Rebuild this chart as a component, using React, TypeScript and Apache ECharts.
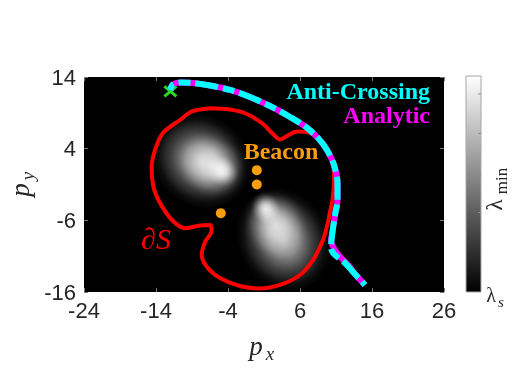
import React, { useEffect, useRef } from 'react';
import * as echarts from 'echarts';

// ---- data ----
const xRange = [-24, 26];
const yRange = [-16, 14];
const tickStep = 10;

// closed boundary ∂S (traced clockwise from the top)
const boundaryX = [-6.5, -3.72, -1.36, 0.86, 2.25, 3.22, 4.06, 5.58, 7.39, 9.19, 10.17, 10.65, 10.72, 10.51, 10.17, 9.89, 9.19, 7.81, 6.0, 3.22, 0.44, -2.33, -5.11, -6.92, -7.65, -7.19, -6.29, -6.43, -7.89, -9.97, -11.78, -13.44, -14.35, -14.6, -14.14, -13.03, -10.67, -9.0, -6.5];
const boundaryY = [9.63, 9.47, 8.84, 7.44, 6.05, 5.28, 5.7, 6.4, 6.19, 4.93, 3.26, 1.44, -0.79, -3.16, -4.84, -6.23, -8.74, -11.53, -13.63, -15.02, -15.51, -15.16, -14.05, -12.51, -10.84, -9.02, -7.49, -6.65, -6.72, -7.11, -5.95, -3.58, -1.35, 1.44, 3.81, 6.19, 8.0, 9.19, 9.63];

// Anti-Crossing trajectory
const antiX = [-12.06, -11.64, -10.67, -8.86, -6.5, -3.72, -0.94, 1.83, 4.61, 6.83, 8.5, 9.75, 10.72, 11.21, 11.21, 10.86, 10.51, 10.31, 10.72, 12.11, 13.5, 15.03];
const antiY = [12.19, 12.95, 13.23, 13.16, 12.81, 12.19, 11.21, 9.95, 8.42, 7.02, 5.49, 3.81, 1.72, -0.79, -3.16, -5.26, -7.63, -9.86, -10.7, -11.81, -13.35, -15.02];

// Analytic trajectory
const analyticX = [-12.06, -11.64, -10.67, -8.86, -6.5, -3.72, -0.94, 1.83, 4.61, 6.83, 8.5, 9.75, 10.72, 11.21, 11.21, 10.86, 10.51, 10.31, 11.14, 12.94, 13.5, 15.03];
const analyticY = [12.19, 12.95, 13.23, 13.16, 12.81, 12.19, 11.21, 9.95, 8.42, 7.02, 5.49, 3.81, 1.72, -0.79, -3.16, -5.26, -7.63, -8.74, -10.56, -12.51, -13.35, -15.02];

const beaconX = [0, 0, -5];
const beaconY = [1, -1, -5];
const startPoint = [-12, 12];

// λ_min field, as glowing layers: centre, radii, angle (deg), peak brightness
const fieldCx = [-7.7, -6.3, -4.8, 3.7, 2.6, 1.3];
const fieldCy = [2.3, 1.7, 0.9, -8.7, -6.6, -4.4];
const fieldRx = [7.3, 5.0, 2.4, 7.5, 5.0, 2.4];
const fieldRy = [6.4, 4.3, 2.1, 6.4, 4.3, 2.1];
const fieldAngle = [145, 145, 145, -62, -62, -62];
const fieldPeak = [0.7, 0.72, 0.85, 0.7, 0.72, 0.85];

const colorbarTickFractions = [0.083, 0.266, 0.449, 0.632];

const CYAN = '#00ffff';
const MAGENTA = '#ff00ff';
const RED = '#ff0000';
const ORANGE = '#fa9e10';
const GREEN = '#22dd22';
const AX = '#262626';

export default function App() {
  const ref = useRef<HTMLDivElement>(null);
  useEffect(() => {
    if (!ref.current) return;
    const chart = echarts.init(ref.current, undefined, { renderer: 'svg' });

    const zip = (xs: number[], ys: number[]) => xs.map((x, i) => [x, ys[i]]);
    const fieldData = fieldCx.map((c, i) => [c, fieldCy[i], fieldRx[i], fieldRy[i], fieldAngle[i], fieldPeak[i]]);

    const gl = 84, gt = 77, gw = 360, gh = 215;
    const cbX = 466, cbY = 76, cbW = 15, cbH = 216;

    const axisLabel = { color: AX, fontSize: 22, fontFamily: 'Liberation Sans' };
    const tick = { inside: true, length: 4, lineStyle: { color: '#777' } };

    const option: any = {
      animation: false,
      grid: { left: gl, top: gt, width: gw, height: gh, show: true, backgroundColor: '#000', borderWidth: 0 },
      xAxis: [
        {
          type: 'value', min: xRange[0], max: xRange[1], interval: tickStep,
          axisLine: { show: false, onZero: false }, splitLine: { show: false },
          axisTick: tick,
          axisLabel: { ...axisLabel, margin: 7 },
        },
        {
          type: 'value', position: 'top', min: xRange[0], max: xRange[1], interval: tickStep,
          axisLine: { show: false, onZero: false }, splitLine: { show: false },
          axisTick: tick,
          axisLabel: { show: false },
        },
      ],
      yAxis: [
        {
          type: 'value', min: yRange[0], max: yRange[1], interval: tickStep,
          axisLine: { show: false, onZero: false }, splitLine: { show: false },
          axisTick: tick,
          axisLabel: { ...axisLabel, margin: 8 },
        },
        {
          type: 'value', position: 'right', min: yRange[0], max: yRange[1], interval: tickStep,
          axisLine: { show: false, onZero: false }, splitLine: { show: false },
          axisTick: tick,
          axisLabel: { show: false },
        },
      ],
      series: [
        {
          type: 'custom', name: 'field', silent: true, clip: true,
          data: fieldData,
          encode: { x: 0, y: 1 },
          renderItem: (_p: any, api: any) => {
            const c = api.coord([api.value(0), api.value(1)]);
            const unit = api.size([1, 1]);
            const rx = api.value(2) * unit[0];
            const ry = api.value(3) * unit[1];
            const a = api.value(5);
            const w = (m: number) => `rgba(255,255,255,${(a * m).toFixed(3)})`;
            return {
              type: 'circle',
              x: c[0], y: c[1],
              rotation: (api.value(4) * Math.PI) / 180,
              scaleX: 1, scaleY: ry / rx,
              shape: { cx: 0, cy: 0, r: rx },
              style: {
                fill: new echarts.graphic.RadialGradient(0.5, 0.5, 0.5, [
                  { offset: 0, color: w(1) },
                  { offset: 0.3, color: w(0.78) },
                  { offset: 0.6, color: w(0.36) },
                  { offset: 0.85, color: w(0.08) },
                  { offset: 1, color: w(0) },
                ]),
              },
            };
          },
        },
        {
          type: 'line', name: '∂S', data: zip(boundaryX, boundaryY), smooth: 0.3,
          showSymbol: false, lineStyle: { color: RED, width: 4 }, silent: true,
        },
        {
          type: 'line', name: 'Analytic', data: zip(analyticX, analyticY), smooth: 0.3,
          showSymbol: false, lineStyle: { color: MAGENTA, width: 6 }, silent: true,
        },
        {
          type: 'line', name: 'Anti-Crossing', data: zip(antiX, antiY), smooth: 0.3,
          showSymbol: false, lineStyle: { color: CYAN, width: 6, type: [23, 5, 12, 5], dashOffset: 16 }, silent: true,
        },
        {
          type: 'scatter', name: 'Beacon', data: zip(beaconX, beaconY), symbol: 'circle', symbolSize: 10,
          itemStyle: { color: ORANGE, opacity: 1 }, silent: true,
        },
        {
          type: 'custom', name: 'start', data: [startPoint], encode: { x: 0, y: 1 }, silent: true,
          renderItem: (_p: any, api: any) => {
            const c = api.coord([api.value(0), api.value(1)]);
            const st = { stroke: GREEN, lineWidth: 3 };
            return {
              type: 'group',
              children: [
                { type: 'line', shape: { x1: c[0] - 6, y1: c[1] - 5, x2: c[0] + 6, y2: c[1] + 5 }, style: st },
                { type: 'line', shape: { x1: c[0] - 6, y1: c[1] + 5, x2: c[0] + 6, y2: c[1] - 5 }, style: st },
              ],
            };
          },
        },
      ],
      graphic: [
        // annotations
        { type: 'text', x: 430, y: 91, style: { text: 'Anti-Crossing', fill: CYAN, font: 'bold 24px "Liberation Serif"', align: 'right', verticalAlign: 'middle' } },
        { type: 'text', x: 430, y: 115, style: { text: 'Analytic', fill: MAGENTA, font: 'bold 24px "Liberation Serif"', align: 'right', verticalAlign: 'middle' } },
        { type: 'text', x: 281, y: 151, style: { text: 'Beacon', fill: ORANGE, font: 'bold 24px "Liberation Serif"', align: 'center', verticalAlign: 'middle' } },
        { type: 'text', x: 156, y: 238, style: { text: '∂S', fill: RED, font: 'italic 30px "Liberation Serif"', align: 'center', verticalAlign: 'middle' } },
        // axis titles
        { type: 'text', x: 256, y: 346, style: { text: 'p', fill: AX, font: 'italic 27px "Liberation Serif"', align: 'center', verticalAlign: 'middle' } },
        { type: 'text', x: 270, y: 353, style: { text: 'x', fill: AX, font: 'italic 19px "Liberation Serif"', align: 'center', verticalAlign: 'middle' } },
        {
          type: 'group', x: 20, y: 186, rotation: Math.PI / 2,
          children: [
            { type: 'text', x: -4, y: 0, style: { text: 'p', fill: AX, font: 'italic 27px "Liberation Serif"', align: 'center', verticalAlign: 'middle' } },
            { type: 'text', x: 10, y: 7, style: { text: 'y', fill: AX, font: 'italic 19px "Liberation Serif"', align: 'center', verticalAlign: 'middle' } },
          ],
        },
        // colorbar
        {
          type: 'rect', shape: { x: cbX, y: cbY, width: cbW, height: cbH },
          style: {
            fill: new echarts.graphic.LinearGradient(0, 0, 0, 1, [
              { offset: 0, color: '#ffffff' },
              { offset: 1, color: '#000000' },
            ]),
            stroke: '#a6a6a6', lineWidth: 1,
          },
        },
        ...colorbarTickFractions.map((f) => ({
          type: 'line', shape: { x1: cbX + cbW - 3, y1: cbY + f * cbH, x2: cbX + cbW, y2: cbY + f * cbH },
          style: { stroke: '#8a8a8a', lineWidth: 1 },
        })),
        {
          type: 'group', x: 494, y: 190, rotation: Math.PI / 2,
          children: [
            { type: 'text', x: -15, y: 0, style: { text: 'λ', fill: AX, font: '23px "Liberation Serif"', align: 'center', verticalAlign: 'middle' } },
            { type: 'text', x: 9, y: 7, style: { text: 'min', fill: AX, font: '17px "Liberation Serif"', align: 'center', verticalAlign: 'middle' } },
          ],
        },
        { type: 'text', x: 491, y: 295, style: { text: 'λ', fill: AX, font: '20px "Liberation Serif"', align: 'center', verticalAlign: 'middle' } },
        { type: 'text', x: 501, y: 302, style: { text: 's', fill: AX, font: 'italic 15px "Liberation Serif"', align: 'center', verticalAlign: 'middle' } },
      ],
    };
    chart.setOption(option);
    return () => chart.dispose();
  }, []);
  return <div ref={ref} style={{ position: 'fixed', left: 0, top: 0, width: 515, height: 387 }} />;
}
